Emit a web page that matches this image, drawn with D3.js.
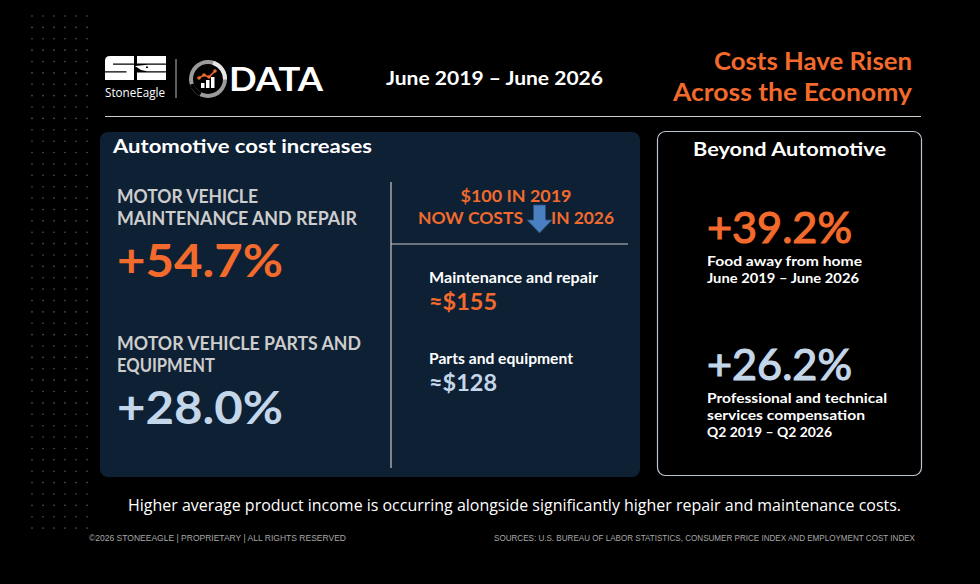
<!DOCTYPE html>
<html>
<head>
<meta charset="utf-8">
<script src="https://cdn.jsdelivr.net/npm/d3@7"></script>
<style>
  body { margin: 0; background: #000; }
  svg { display: block; }
</style>
</head>
<body>
<svg id="chart"></svg>
<script>
const width = 980, height = 584;

// data
const periodLabel = "June 2019 – June 2026";
const titleLines = ["Costs Have Risen", "Across the Economy"];
const autoLabels = [["MOTOR VEHICLE", "MAINTENANCE AND REPAIR"], ["MOTOR VEHICLE PARTS AND", "EQUIPMENT"]];
const autoChanges = [54.7, 28.0];
const costLabels = ["Maintenance and repair", "Parts and equipment"];
const costNow = [155, 128];
const beyondLabels = [["Food away from home", "June 2019 – June 2026"],
                      ["Professional and technical", "services compensation", "Q2 2019 – Q2 2026"]];
const beyondChanges = [39.2, 26.2];
const seriesColors = ["#f26a2c", "#c4d6e9"];

const orange = "#f26a2c";
const navy = "#0e2034";
const font = "Lato, 'Open Sans', sans-serif";

const svg = d3.select("#chart")
  .attr("width", width)
  .attr("height", height)
  .attr("viewBox", [0, 0, width, height]);

svg.append("rect").attr("width", width).attr("height", height).attr("fill", "#000");

// dotted texture on the left
const dotCols = d3.range(6), dotRows = d3.range(46);
svg.append("g")
  .selectAll("circle")
  .data(d3.cross(dotCols, dotRows))
  .join("circle")
  .attr("cx", d => 32 + d[0] * 11)
  .attr("cy", d => 16 + d[1] * 11.38)
  .attr("r", 0.8)
  .attr("fill", "#5a5a5a");

// helper for fitted text
function txt(g, s, x, y, opts) {
  const t = g.append("text")
    .attr("x", x).attr("y", y)
    .attr("font-family", opts.family || font)
    .attr("font-size", opts.size)
    .attr("font-weight", opts.weight || 700)
    .attr("fill", opts.fill || "#fff")
    .attr("text-anchor", opts.anchor || "start")
    .text(s);
  if (opts.len) t.attr("textLength", opts.len).attr("lengthAdjust", "spacingAndGlyphs");
  if (opts.stroke) t.attr("stroke", opts.stroke).attr("stroke-width", opts.sw || 0.8);
  return t;
}

// ---------- header ----------
const head = svg.append("g");

// StoneEagle mark
const mark = head.append("g").attr("fill", "#fff");
mark.append("path").attr("d",
  "M110,56 H134 V63.5 H113 V64.8 H134 V80 H105 V72.5 H126.5 V71.2 H105 V61 Q105,56 110,56 Z");
mark.append("path").attr("d",
  "M137,56 H166 V63.5 H137 Z M135,66 L148,64.8 H166 V71.2 H147 L141,70 Z M137,72.5 H166 V80 H137 Z");
mark.append("path").attr("d", "M146,66.4 l2,0 l0,1.6 l-2,0 Z").attr("fill", "#000");
txt(head, "StoneEagle", 105, 97, { size: 12, weight: 400, len: 60, family: "'Open Sans', sans-serif" });

head.append("line").attr("x1", 176).attr("x2", 176).attr("y1", 59).attr("y2", 98)
  .attr("stroke", "#bbb").attr("stroke-width", 1);

// data icon
const icon = head.append("g").attr("transform", "translate(208,79)");
const arc = d3.arc().innerRadius(15).outerRadius(19);
icon.append("path").attr("d", arc({ startAngle: 0, endAngle: 2 * Math.PI })).attr("fill", "#9b9b9b");
icon.append("path").attr("d", arc({ startAngle: 0.3, endAngle: 1.6 })).attr("fill", "#e6e6e6");
icon.append("path").attr("d", arc({ startAngle: 3.6, endAngle: 4.4 })).attr("fill", "#000");
const barH = [5, 8, 11];
icon.selectAll("rect.b").data(barH).join("rect")
  .attr("x", (d, i) => -7 + i * 5).attr("y", d => 9 - d)
  .attr("width", 3.5).attr("height", d => d).attr("fill", "#fff");
const linePts = [[-9, -1], [-4, -4], [1, -2], [7, -8]];
icon.append("path").attr("d", d3.line()(linePts)).attr("stroke", orange)
  .attr("stroke-width", 1.5).attr("fill", "none");
icon.selectAll("circle").data(linePts).join("circle")
  .attr("cx", d => d[0]).attr("cy", d => d[1]).attr("r", 1.8).attr("fill", orange);

txt(head, "DATA", 229, 91, { size: 33, len: 94 });

txt(head, periodLabel, 386, 85, { size: 19, len: 217 });

txt(head, titleLines[0], 912, 70, { size: 24, fill: orange, anchor: "end", len: 198 });
txt(head, titleLines[1], 912, 101, { size: 24, fill: orange, anchor: "end", len: 239 });

head.append("line").attr("x1", 105).attr("x2", 921).attr("y1", 116.5).attr("y2", 116.5)
  .attr("stroke", "#cfcfcf").attr("stroke-width", 1);

// ---------- left panel ----------
const left = svg.append("g");
left.append("rect").attr("x", 100).attr("y", 132).attr("width", 540).attr("height", 345)
  .attr("rx", 8).attr("fill", navy);
txt(left, "Automotive cost increases", 113, 153, { size: 19, len: 259 });

left.append("line").attr("x1", 391).attr("x2", 391).attr("y1", 182).attr("y2", 468)
  .attr("stroke", "#c8c8c8").attr("stroke-width", 1.2);
left.append("line").attr("x1", 391).attr("x2", 628).attr("y1", 244).attr("y2", 244)
  .attr("stroke", "#c8c8c8").attr("stroke-width", 1.2);

const pct = d3.format("+.1f");
const yAuto = d3.scaleBand().domain(d3.range(autoChanges.length)).range([180, 474]);
const labelLens = [[141, 240], [244, 98]];
autoChanges.forEach((v, i) => {
  const y0 = yAuto(i);
  autoLabels[i].forEach((s, j) => {
    txt(left, s, 117, y0 + 23 + j * 22, { size: 18, fill: "#cdcdcd", len: labelLens[i][j] });
  });
  txt(left, pct(v) + "%", 117, y0 + 97, { size: 46, fill: seriesColors[i], len: 166 });
});

// $100 in 2019 block
txt(left, "$100 IN 2019", 516, 202, { size: 17, fill: orange, anchor: "middle", len: 111 });
txt(left, "NOW COSTS", 418, 224, { size: 17, fill: orange, len: 105 });
txt(left, "IN 2026", 551, 224, { size: 17, fill: orange, len: 63 });
left.append("path")
  .attr("d", "M533.5,205 H545.5 V220 H552 L539.5,233 L527,220 H533.5 Z")
  .attr("fill", "#4a7fc1").attr("stroke", "#2c4f7a").attr("stroke-width", 0.8);

const yCost = d3.scaleBand().domain(d3.range(costNow.length)).range([260, 422]);
const costLens = [169, 144];
const dollar = d3.format("d");
costNow.forEach((v, i) => {
  const y0 = yCost(i);
  txt(left, costLabels[i], 429, y0 + 23, { size: 14.5, len: costLens[i] });
  txt(left, "≈$" + dollar(v), 429, y0 + 50, { size: 22, fill: seriesColors[i], len: 68 });
});

// ---------- right panel ----------
const right = svg.append("g");
right.append("rect").attr("x", 657.5).attr("y", 131.5).attr("width", 264).attr("height", 344)
  .attr("rx", 8).attr("fill", "#000").attr("stroke", "#b9c3cf").attr("stroke-width", 1.2);
txt(right, "Beyond Automotive", 789.5, 156, { size: 19, anchor: "middle", len: 193 });

const yBeyond = d3.scaleBand().domain(d3.range(beyondChanges.length)).range([200, 474]);
const beyondLens = [[155, 152], [180, 158, 125]];
beyondChanges.forEach((v, i) => {
  const y0 = yBeyond(i);
  txt(right, pct(v) + "%", 707, y0 + 43, { size: 42, weight: 400, fill: seriesColors[i], len: 145,
    stroke: seriesColors[i], sw: 1.2 });
  beyondLabels[i].forEach((s, j) => {
    txt(right, s, 707, y0 + 66 + j * 17, { size: 14, len: beyondLens[i][j] });
  });
});

// ---------- footer ----------
txt(svg, "Higher average product income is occurring alongside significantly higher repair and maintenance costs.",
  128, 511, { size: 17, weight: 400, len: 773, family: "'Open Sans', sans-serif" });
txt(svg, "©2026 STONEEAGLE | PROPRIETARY | ALL RIGHTS RESERVED", 89, 541,
  { size: 9, weight: 400, fill: "#a8a8a8", len: 257, family: "'Liberation Sans Narrow', sans-serif" });
txt(svg, "SOURCES: U.S. BUREAU OF LABOR STATISTICS, CONSUMER PRICE INDEX AND EMPLOYMENT COST INDEX", 494, 541,
  { size: 9, weight: 400, fill: "#a8a8a8", len: 421, family: "'Liberation Sans Narrow', sans-serif" });
</script>
</body>
</html>
